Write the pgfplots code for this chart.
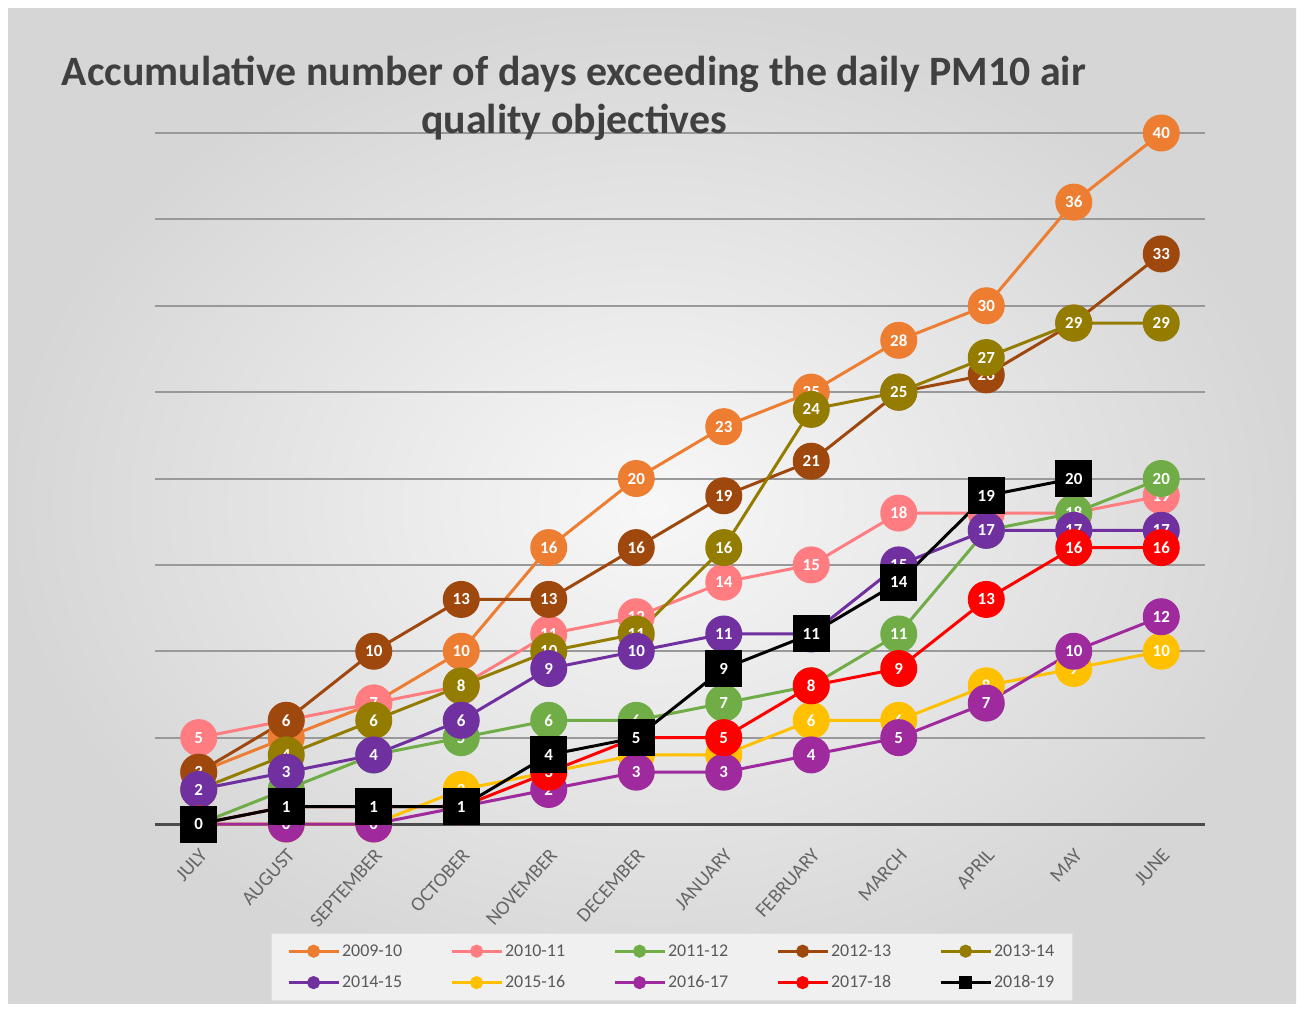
\documentclass[border=0pt]{standalone}
\usepackage{fontspec}
\setmainfont{Carlito}
\usepackage{pgfplots}
\pgfplotsset{compat=1.18}
\definecolor{cA}{HTML}{ED7D31}
\definecolor{cB}{HTML}{FF7C80}
\definecolor{cC}{HTML}{70AD47}
\definecolor{cD}{HTML}{9E480E}
\definecolor{cE}{HTML}{947C00}
\definecolor{cF}{HTML}{7030A0}
\definecolor{cG}{HTML}{FFC000}
\definecolor{cH}{HTML}{9E2A9E}
\definecolor{cI}{HTML}{FF0000}
\definecolor{cJ}{HTML}{000000}
\begin{document}
\begin{tikzpicture}
\fill[white] (0,0) rectangle (1304bp,-1011bp);
\shade[inner color=gray!6, outer color=gray!32] (8bp,-8bp) rectangle (1296bp,-1003bp);
\begin{axis}[
  at={(155bp,-824bp)}, anchor=south west,
  width=1050bp, height=691bp, scale only axis,
  xmin=-0.5, xmax=11.5, ymin=0, ymax=40,
  clip=false,
  /pgf/number format/assume math mode=true,
  axis x line*=bottom, axis y line*=left,
  y axis line style={draw=none},
  x axis line style={draw=black!70, line width=3bp, -},
  xtick={0,...,11},
  xticklabels={JULY,AUGUST,SEPTEMBER,OCTOBER,NOVEMBER,DECEMBER,JANUARY,FEBRUARY,MARCH,APRIL,MAY,JUNE},
  x tick label style={rotate=48, anchor=north east, font=\fontsize{20}{20}\selectfont, text=black!60, yshift=-12bp, xshift=-14bp},
  ytick={0,5,...,40}, yticklabels={},
  major tick length=0pt,
  ymajorgrids, grid style={draw=black!40, line width=2bp},
  every axis plot/.append style={line width=3bp, mark size=17bp},
  nodes near coords,
  every node near coord/.append style={anchor=center, text=white, font=\bfseries\fontsize{17}{17}\selectfont},
  legend columns=5,
  legend style={at={(0.492,-0.207)}, anchor=center, fill=gray!12, draw=gray!25,
    font=\fontsize{18}{18}\selectfont, text=black!65, inner xsep=16bp, inner ysep=9bp,
    /tikz/every even column/.append style={column sep=46bp}, row sep=14bp},
  legend image code/.code={\draw[mark repeat=2, mark phase=2, mark size=5bp, line width=3bp] plot coordinates {(0bp,0bp) (25bp,0bp) (50bp,0bp)};},
]
\addplot[color=cA, mark=*, mark options={fill=cA}] coordinates {(0,3)(1,5)(2,7)(3,10)(4,16)(5,20)(6,23)(7,25)(8,28)(9,30)(10,36)(11,40)};
\addlegendentry{2009-10}
\addplot[color=cB, mark=*, mark options={fill=cB}] coordinates {(0,5)(1,6)(2,7)(3,8)(4,11)(5,12)(6,14)(7,15)(8,18)(9,18)(10,18)(11,19)};
\addlegendentry{2010-11}
\addplot[color=cC, mark=*, mark options={fill=cC}] coordinates {(0,0)(1,2)(2,4)(3,5)(4,6)(5,6)(6,7)(7,8)(8,11)(9,17)(10,18)(11,20)};
\addlegendentry{2011-12}
\addplot[color=cD, mark=*, mark options={fill=cD}] coordinates {(0,3)(1,6)(2,10)(3,13)(4,13)(5,16)(6,19)(7,21)(8,25)(9,26)(10,29)(11,33)};
\addlegendentry{2012-13}
\addplot[color=cE, mark=*, mark options={fill=cE}] coordinates {(0,2)(1,4)(2,6)(3,8)(4,10)(5,11)(6,16)(7,24)(8,25)(9,27)(10,29)(11,29)};
\addlegendentry{2013-14}
\addplot[color=cF, mark=*, mark options={fill=cF}] coordinates {(0,2)(1,3)(2,4)(3,6)(4,9)(5,10)(6,11)(7,11)(8,15)(9,17)(10,17)(11,17)};
\addlegendentry{2014-15}
\addplot[color=cG, mark=*, mark options={fill=cG}] coordinates {(0,0)(1,0)(2,0)(3,2)(4,3)(5,4)(6,4)(7,6)(8,6)(9,8)(10,9)(11,10)};
\addlegendentry{2015-16}
\addplot[color=cH, mark=*, mark options={fill=cH}] coordinates {(0,0)(1,0)(2,0)(3,1)(4,2)(5,3)(6,3)(7,4)(8,5)(9,7)(10,10)(11,12)};
\addlegendentry{2016-17}
\addplot[color=cI, mark=*, mark options={fill=cI}] coordinates {(0,0)(1,1)(2,1)(3,1)(4,3)(5,5)(6,5)(7,8)(8,9)(9,13)(10,16)(11,16)};
\addlegendentry{2017-18}
\addplot[color=cJ, mark=square*, mark options={fill=cJ}] coordinates {(0,0)(1,1)(2,1)(3,1)(4,4)(5,5)(6,9)(7,11)(8,14)(9,19)(10,20)};
\addlegendentry{2018-19}
\end{axis}
\node[align=center, font=\bfseries\fontsize{42}{48}\selectfont, text=black!75] at (574bp,-98bp) {Accumulative number of days exceeding the daily PM10 air\\quality objectives};
\end{tikzpicture}
\end{document}
